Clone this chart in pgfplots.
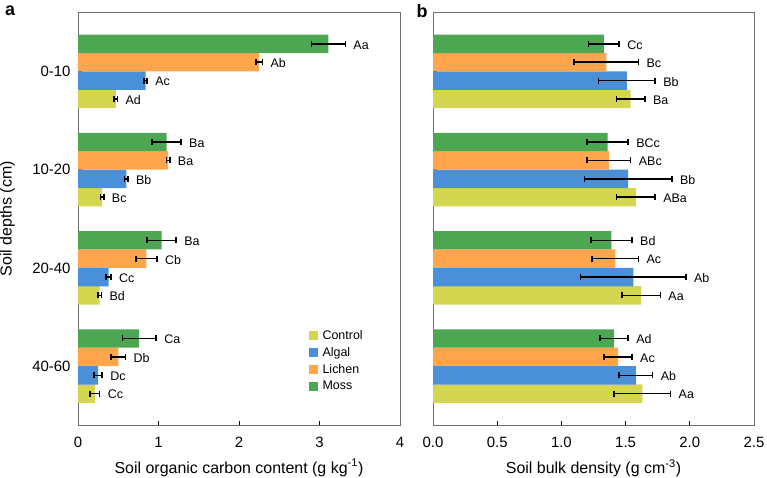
\documentclass[border=0pt]{standalone}
\usepackage{fontspec}
\setmainfont{Liberation Sans}
\usepackage{pgfplots}
\usepackage{pgfplotstable}
\pgfplotsset{compat=1.18}
\definecolor{ctrl}{RGB}{212,214,79}
\definecolor{algal}{RGB}{74,144,217}
\definecolor{lichen}{RGB}{255,166,77}
\definecolor{moss}{RGB}{76,166,82}
\definecolor{frame}{RGB}{110,110,110}

% left panel: soil organic carbon
\pgfplotstableread{
y x err lab
2.719 0.47 0.02 Ad
1.719 0.30 0.02 Bc
0.719 0.27 0.02 Bd
-0.281 0.21 0.06 Cc
}\socctrl
\pgfplotstableread{
y x err lab
2.906 0.84 0.02 Ac
1.906 0.60 0.02 Bb
0.906 0.38 0.03 Cc
-0.094 0.25 0.05 Dc
}\socalgal
\pgfplotstableread{
y x err lab
3.094 2.25 0.04 Ab
2.094 1.12 0.02 Ba
1.094 0.85 0.13 Cb
0.094 0.50 0.09 Db
}\soclichen
\pgfplotstableread{
y x err lab
3.281 3.11 0.21 Aa
2.281 1.10 0.18 Ba
1.281 1.04 0.18 Ba
0.281 0.76 0.21 Ca
}\socmoss
% right panel: bulk density
\pgfplotstableread{
y x err lab
2.719 1.54 0.11 Ba
1.719 1.58 0.15 ABa
0.719 1.62 0.15 Aa
-0.281 1.63 0.22 Aa
}\bdctrl
\pgfplotstableread{
y x err lab
2.906 1.51 0.22 Bb
1.906 1.52 0.34 Bb
0.906 1.56 0.41 Ab
-0.094 1.58 0.13 Ab
}\bdalgal
\pgfplotstableread{
y x err lab
3.094 1.35 0.25 Bc
2.094 1.37 0.17 ABc
1.094 1.42 0.18 Ac
0.094 1.44 0.11 Ac
}\bdlichen
\pgfplotstableread{
y x err lab
3.281 1.33 0.12 Cc
2.281 1.36 0.16 BCc
1.281 1.39 0.16 Bd
0.281 1.41 0.11 Ad
}\bdmoss

\pgfplotsset{
  mybar/.style={forget plot, xbar, bar width=0.1875, bar shift=0pt, fill=#1, draw=none,
    error bars/.cd, x dir=both, x explicit, error mark=|,
    error bar style={draw=black, line width=1.5bp},
    error mark options={draw=black, line width=1.5bp, mark size=3bp, rotate=0},
    /pgfplots/.cd},
  mylab/.style={only marks, mark=none, forget plot,
    nodes near coords, point meta=explicit symbolic,
    every node near coord/.append style={anchor=west, inner sep=0pt, xshift=8bp, yshift=-1bp, font=\fontsize{12.5}{14}\selectfont, black}},
  sq/.style={legend image code/.code={\fill[#1] (0bp,-4bp) rectangle (8bp,4bp); \path (12bp,0bp);}},
  common/.style={
    scale only axis, height=412.5bp,
    ymin=-0.6, ymax=3.6, ytick={0,1,2,3},
    axis line style={frame, line width=0.9bp},
    tick style={black, line width=0.9bp},
    major tick length=4bp,
    tick align=inside,
    xtick pos=bottom, ytick pos=left,
    every tick label/.append style={font=\fontsize{15}{17}\selectfont},
    xticklabel style={anchor=center, yshift=0bp},
    every axis x label/.style={at={(axis description cs:0.5,-0.104)}, anchor=center, font=\fontsize{16}{18}\selectfont},
    /pgf/number format/assume math mode=true,
    clip=false,
  }
}

\begin{document}
\begin{tikzpicture}
\path[use as bounding box] (0,0) rectangle (767bp,478bp);
\node[font=\bfseries\fontsize{18}{18}\selectfont, anchor=center] at (10bp,467bp) {a};
\node[font=\bfseries\fontsize{18}{18}\selectfont, anchor=center] at (422bp,467bp) {b};

\begin{axis}[common,
  at={(78bp,53bp)}, anchor=south west, width=322bp,
  xmin=0, xmax=4, xtick={0,1,2,3,4},
  xticklabel style={at={(axis cs:\tick,-0.6)}, yshift=-17bp},
  yticklabels={40-60,20-40,10-20,0-10},
  yticklabel style={xshift=-4bp},
  xlabel={Soil organic carbon content (g kg\textsuperscript{-1})},
  ylabel={Soil depths (cm)},
  every axis y label/.style={at={(axis description cs:-0.219,0.5)}, anchor=center, rotate=90, font=\fontsize{16}{18}\selectfont},
  legend style={at={(0.708,0.238)}, anchor=north west, draw=none, fill=none,
    font=\fontsize{12.5}{14}\selectfont, row sep=4.5bp,
    nodes={inner sep=1bp}},
  legend cell align=left,
]
\addlegendimage{sq=ctrl}\addlegendentry{Control}
\addlegendimage{sq=algal}\addlegendentry{Algal}
\addlegendimage{sq=lichen}\addlegendentry{Lichen}
\addlegendimage{sq=moss}\addlegendentry{Moss}
\addplot[mybar=ctrl] table[x=x, y=y, x error=err] {\socctrl};
\addplot[mybar=algal] table[x=x, y=y, x error=err] {\socalgal};
\addplot[mybar=lichen] table[x=x, y=y, x error=err] {\soclichen};
\addplot[mybar=moss] table[x=x, y=y, x error=err] {\socmoss};
\addplot[mylab] table[x expr=\thisrow{x}+\thisrow{err}, y=y, meta=lab] {\socctrl};
\addplot[mylab] table[x expr=\thisrow{x}+\thisrow{err}, y=y, meta=lab] {\socalgal};
\addplot[mylab] table[x expr=\thisrow{x}+\thisrow{err}, y=y, meta=lab] {\soclichen};
\addplot[mylab] table[x expr=\thisrow{x}+\thisrow{err}, y=y, meta=lab] {\socmoss};
\end{axis}

\begin{axis}[common,
  at={(433bp,53bp)}, anchor=south west, width=321bp,
  xmin=0, xmax=2.5, xtick={0,0.5,1,1.5,2,2.5},
  xticklabel style={at={(axis cs:\tick,-0.6)}, yshift=-17bp, /pgf/number format/.cd, fixed, fixed zerofill, precision=1},
  yticklabels={},
  xlabel={Soil bulk density (g cm\textsuperscript{-3})},
]
\addplot[mybar=ctrl] table[x=x, y=y, x error=err] {\bdctrl};
\addplot[mybar=algal] table[x=x, y=y, x error=err] {\bdalgal};
\addplot[mybar=lichen] table[x=x, y=y, x error=err] {\bdlichen};
\addplot[mybar=moss] table[x=x, y=y, x error=err] {\bdmoss};
\addplot[mylab] table[x expr=\thisrow{x}+\thisrow{err}, y=y, meta=lab] {\bdctrl};
\addplot[mylab] table[x expr=\thisrow{x}+\thisrow{err}, y=y, meta=lab] {\bdalgal};
\addplot[mylab] table[x expr=\thisrow{x}+\thisrow{err}, y=y, meta=lab] {\bdlichen};
\addplot[mylab] table[x expr=\thisrow{x}+\thisrow{err}, y=y, meta=lab] {\bdmoss};
\end{axis}
\end{tikzpicture}
\end{document}
